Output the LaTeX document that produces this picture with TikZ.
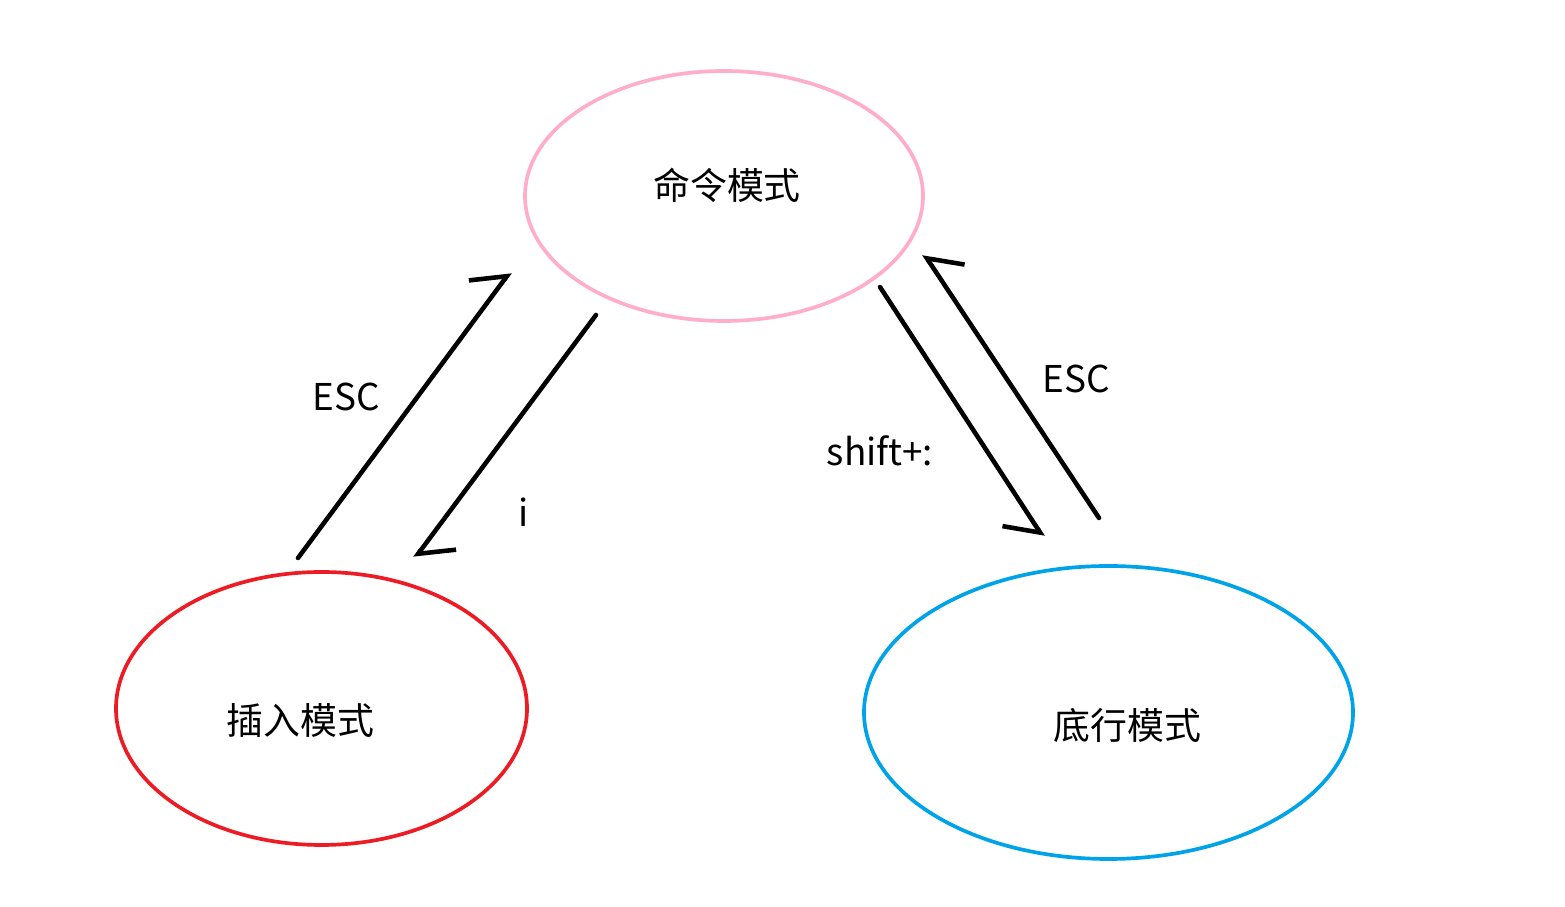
\documentclass[tikz,border=0pt]{standalone}
\usepackage{fontspec}
\setmainfont{Noto Sans CJK SC}
\usepackage{tikz}
\usetikzlibrary{positioning,arrows.meta,shapes.geometric}
\usepackage{xcolor}

\definecolor{paintpink}{RGB}{255,174,201}
\definecolor{paintred}{RGB}{237,28,36}
\definecolor{paintblue}{RGB}{0,162,232}

\tikzset{
    modebox/.style={ellipse, draw, line width=1.05pt, inner sep=0pt},
    keytext/.style={font=\fontsize{10.5}{12}\selectfont},
    barbl/.style={-{Straight Barb[left, length=2.6mm, width=5.6mm]}, line width=1.3pt, line cap=round, line join=round},
    barbr/.style={-{Straight Barb[right, length=2.6mm, width=5.6mm]}, line width=1.3pt, line cap=round, line join=round}
}

\begin{document}
\begin{tikzpicture}[font=\fontsize{10.5}{12}\selectfont]
    \useasboundingbox (0,0) rectangle (15.65,9.07);

    % the three modes
    \node[modebox, draw=paintpink, minimum width=3.98cm, minimum height=2.50cm,
          label={[shift={(0.03,0.11)}]center:命令模式}] (cmd) at (7.24,7.11) {};
    \node[modebox, draw=paintred, minimum width=4.11cm, minimum height=2.73cm,
          label={[shift={(-0.21,-0.12)}]center:插入模式}] (ins) at (3.215,1.985) {};
    \node[modebox, draw=paintblue, minimum width=4.89cm, minimum height=2.93cm,
          label={[shift={(0.19,-0.13)}]center:底行模式}] (last) at (11.085,1.945) {};

    % free ends of the arrows
    \coordinate (insup)   at (2.98,3.49);
    \coordinate (cmdin)   at (5.10,6.35);
    \coordinate (cmdout)  at (5.96,5.92);
    \coordinate (insin)   at (4.15,3.49);
    \coordinate (cmdout2) at (8.80,6.20);
    \coordinate (lastin)  at (10.43,3.70);
    \coordinate (lastup)  at (10.99,3.89);
    \coordinate (cmdin2)  at (9.24,6.53);

    \draw[barbl] (insup) -- (cmdin);
    \draw[barbl] (cmdout) -- (insin);
    \draw[barbr] (cmdout2) -- (lastin);
    \draw[barbr] (lastup) -- (cmdin2);

    \node[keytext] (escl) at (3.46,5.10) {ESC};
    \node[keytext] (keyi) at (5.24,3.95) {i};
    \node[keytext] (shift) at (8.80,4.56) {shift+:};
    \node[keytext] (escr) at (10.76,5.28) {ESC};
\end{tikzpicture}
\end{document}
